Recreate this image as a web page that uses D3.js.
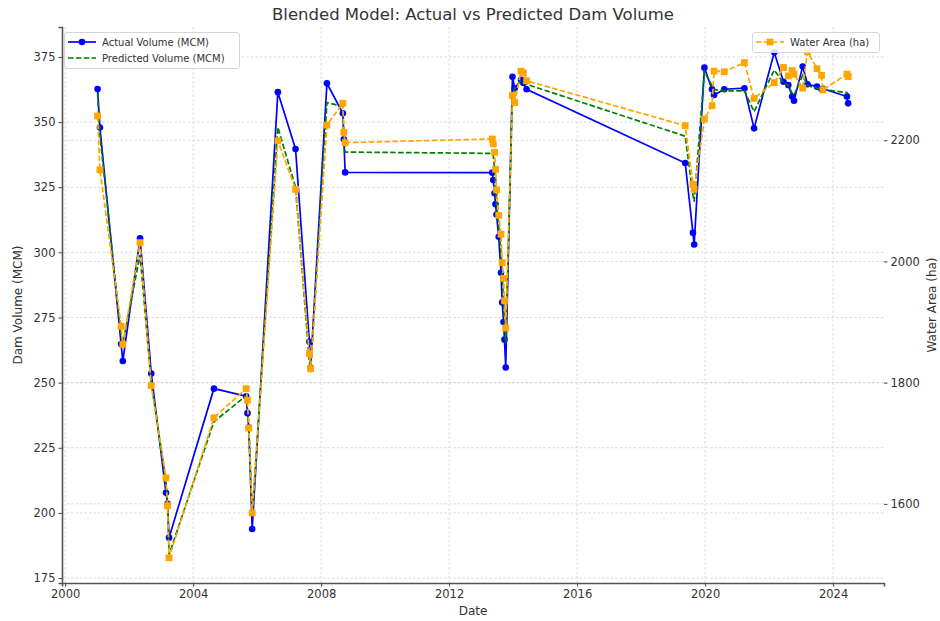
<!DOCTYPE html>
<html>
<head>
<meta charset="utf-8">
<script src="https://cdn.jsdelivr.net/npm/d3@7"></script>
<style>
body { margin: 0; background: #fff; }
text { font-family: "DejaVu Sans", sans-serif; }
</style>
</head>
<body>
<svg id="chart" width="940" height="621"></svg>
<script>
// observation dates
var dates = ["2001-01-05","2001-02-01","2001-10-01","2001-10-20","2002-05-05","2002-09-10",
  "2003-02-25","2003-03-15","2003-04-01","2004-08-25","2005-08-28","2005-09-12","2005-09-27",
  "2005-11-05","2006-08-25","2007-03-15","2007-08-20","2007-09-03","2008-03-07","2008-09-05",
  "2008-09-16","2008-10-01",
  "2013-05-08","2013-05-19","2013-06-03","2013-06-14","2013-06-25","2013-07-20","2013-08-15",
  "2013-08-29","2013-09-13","2013-09-24","2013-10-08",
  "2013-12-24","2014-01-19","2014-04-01","2014-04-27","2014-06-03",
  "2019-05-19","2019-08-15","2019-08-29","2019-12-24","2020-03-20","2020-04-12","2020-08-07",
  "2021-03-25","2021-07-13","2022-02-28","2022-06-14","2022-08-08","2022-09-21","2022-10-12",
  "2023-01-19","2023-03-15","2023-07-01","2023-08-22","2023-09-06","2024-06-07","2024-06-21"];

var actual = [362.7,347.9,264.8,258.3,305.4,253.5,
  207.7,203.5,190.5,247.7,244.8,238.3,232.8,
  193.8,361.5,339.7,265.7,255.7,364.9,353.4,
  343.4,330.7,
  330.6,327.8,322.7,318.5,314.5,306.0,292.2,
  280.8,273.3,266.5,255.8,
  367.4,363.0,366.2,365.0,362.6,
  334.3,307.5,303.0,370.9,362.6,360.4,362.6,
  363.0,347.6,376.8,365.5,364.2,359.8,358.2,
  371.3,364.5,363.6,362.6,362.8,359.8,357.2];

var predicted = [361,345,268,265,299,250,
  212,204,184,235,245,240,234,
  199,348,325,258,254,357.5,356,
  345,338.5,
  338,337,332,325,318,310,300,
  291,282,272,265,
  360,363,366,365,364.5,
  344.6,322,319.5,369.4,364,362.5,362,
  362,354,370,365,364,361,360.4,
  368,364,363,362.8,362.5,361.3,360.8];

var waterArea = [2240,2151,1893,1863,2031,1795,
  1643,1597,1511,1742,1790,1771,1725,
  1585,2199,2119,1848,1823,2225,2261,
  2213,2196,
  2202,2194,2180,2152,2118,2076,2045,
  1998,1972,1935,1890,
  2274,2262,2314,2311,2298,
  2224,2127,2119,2235,2257,2314,2313,
  2328,2269,2295,2320,2306,2315,2309,
  2286,2346,2318,2307,2283,2309,2305];

var volumeTicks = [175,200,225,250,275,300,325,350,375];
var areaTicks = [1600,1800,2000,2200];

var parseDate = d3.timeParse("%Y-%m-%d");
var data = dates.map(function (d, i) {
    return { date: parseDate(d), actual: actual[i], predicted: predicted[i], area: waterArea[i] };
});

var svg = d3.select("#chart"),
    mLeft = 62, mRight = 884, mTop = 27, mBottom = 583;

var x = d3.scaleTime()
    .domain([parseDate("1999-11-26"), parseDate("2025-08-04")])
    .range([mLeft, mRight]);
var y = d3.scaleLinear().domain([173.1, 386.5]).range([mBottom, mTop]);
var y2 = d3.scaleLinear().domain([1469.4, 2386.8]).range([mBottom, mTop]);

// grid
var grid = svg.append("g").attr("class", "grid");
function gridStyle(sel) {
    sel.attr("stroke", "#d0d0d0").attr("stroke-width", 0.8).attr("stroke-dasharray", "2.5,2");
}
grid.selectAll(".gx").data(x.ticks(d3.timeYear.every(4))).enter().append("line")
    .attr("x1", function (d) { return x(d); }).attr("x2", function (d) { return x(d); })
    .attr("y1", mTop).attr("y2", mBottom).call(gridStyle);
grid.selectAll(".gy").data(volumeTicks).enter().append("line")
    .attr("x1", mLeft).attr("x2", mRight)
    .attr("y1", function (d) { return y(d); }).attr("y2", function (d) { return y(d); }).call(gridStyle);
grid.selectAll(".gy2").data(areaTicks).enter().append("line")
    .attr("x1", mLeft).attr("x2", mRight)
    .attr("y1", function (d) { return y2(d); }).attr("y2", function (d) { return y2(d); }).call(gridStyle);

// axes
var xAxis = svg.append("g")
    .attr("transform", "translate(0," + mBottom + ")")
    .call(d3.axisBottom(x).ticks(d3.timeYear.every(4)).tickFormat(d3.timeFormat("%Y")).tickSizeOuter(0).tickSize(3.5).tickPadding(3));
var yAxis = svg.append("g")
    .attr("transform", "translate(" + mLeft + ",0)")
    .call(d3.axisLeft(y).tickValues(volumeTicks).tickSizeOuter(0).tickSize(3.5).tickPadding(3));
var yAxis2 = svg.append("g")
    .attr("transform", "translate(" + mRight + ",0)")
    .call(d3.axisRight(y2).tickValues(areaTicks).tickFormat(d3.format("d")).tickSizeOuter(0).tickSize(3.5).tickPadding(3));

[xAxis, yAxis, yAxis2].forEach(function (a) {
    a.selectAll("text").attr("font-size", 11.5).attr("fill", "#333").attr("font-family", "DejaVu Sans");
    a.selectAll("line").attr("stroke", "#444");
});
xAxis.select(".domain").attr("stroke", "#555").attr("stroke-width", 1.6);
yAxis.select(".domain").attr("stroke", "#555").attr("stroke-width", 1.6);
yAxis2.select(".domain").remove();

// lines
var lineActual = d3.line().x(function (d) { return x(d.date); }).y(function (d) { return y(d.actual); });
var linePred = d3.line().x(function (d) { return x(d.date); }).y(function (d) { return y(d.predicted); });
var lineArea = d3.line().x(function (d) { return x(d.date); }).y(function (d) { return y2(d.area); });

svg.append("path").datum(data).attr("d", lineActual)
    .attr("fill", "none").attr("stroke", "blue").attr("stroke-width", 1.7);
svg.selectAll(".dot").data(data).enter().append("circle")
    .attr("cx", function (d) { return x(d.date); })
    .attr("cy", function (d) { return y(d.actual); })
    .attr("r", 3.3).attr("fill", "blue");
svg.append("path").datum(data).attr("d", linePred)
    .attr("fill", "none").attr("stroke", "green").attr("stroke-width", 1.7)
    .attr("stroke-dasharray", "5.5,2.4");

svg.append("path").datum(data).attr("d", lineArea)
    .attr("fill", "none").attr("stroke", "orange").attr("stroke-width", 1.7)
    .attr("stroke-dasharray", "5.5,2.4");
svg.selectAll(".sq").data(data).enter().append("rect")
    .attr("x", function (d) { return x(d.date) - 3.4; })
    .attr("y", function (d) { return y2(d.area) - 3.4; })
    .attr("width", 6.8).attr("height", 6.8).attr("fill", "orange");

// titles
svg.append("text").attr("x", (mLeft + mRight) / 2).attr("y", 20)
    .attr("text-anchor", "middle").attr("font-size", 16.5).attr("fill", "#333")
    .text("Blended Model: Actual vs Predicted Dam Volume");
svg.append("text").attr("x", (mLeft + mRight) / 2).attr("y", 615)
    .attr("text-anchor", "middle").attr("font-size", 12).attr("fill", "#333")
    .text("Date");
svg.append("text").attr("transform", "translate(22," + (mTop + mBottom) / 2 + ") rotate(-90)")
    .attr("text-anchor", "middle").attr("font-size", 12).attr("fill", "#333")
    .text("Dam Volume (MCM)");
svg.append("text").attr("transform", "translate(936," + (mTop + mBottom) / 2 + ") rotate(-90)")
    .attr("text-anchor", "middle").attr("font-size", 12).attr("fill", "#333")
    .text("Water Area (ha)");

// legend left
var leg = svg.append("g");
leg.append("rect").attr("x", 64.5).attr("y", 32.5).attr("width", 175).attr("height", 36)
    .attr("rx", 2.5).attr("fill", "white").attr("fill-opacity", 0.85).attr("stroke", "#d6d6d6");
leg.append("line").attr("x1", 68).attr("x2", 96).attr("y1", 42).attr("y2", 42)
    .attr("stroke", "blue").attr("stroke-width", 1.7);
leg.append("circle").attr("cx", 82).attr("cy", 42).attr("r", 3.3).attr("fill", "blue");
leg.append("text").attr("x", 102).attr("y", 45.5).attr("font-size", 10).attr("fill", "#333")
    .text("Actual Volume (MCM)");
leg.append("line").attr("x1", 68).attr("x2", 96).attr("y1", 58).attr("y2", 58)
    .attr("stroke", "green").attr("stroke-width", 1.7).attr("stroke-dasharray", "5.5,2.4");
leg.append("text").attr("x", 102).attr("y", 61.5).attr("font-size", 10).attr("fill", "#333")
    .text("Predicted Volume (MCM)");

// legend right
var leg2 = svg.append("g");
leg2.append("rect").attr("x", 752.5).attr("y", 32.5).attr("width", 127).attr("height", 20)
    .attr("rx", 2.5).attr("fill", "white").attr("fill-opacity", 0.85).attr("stroke", "#d6d6d6");
leg2.append("line").attr("x1", 756).attr("x2", 784).attr("y1", 42).attr("y2", 42)
    .attr("stroke", "orange").attr("stroke-width", 1.7).attr("stroke-dasharray", "5.5,2.4");
leg2.append("rect").attr("x", 766.6).attr("y", 38.6).attr("width", 6.8).attr("height", 6.8).attr("fill", "orange");
leg2.append("text").attr("x", 790).attr("y", 45.5).attr("font-size", 10).attr("fill", "#333")
    .text("Water Area (ha)");
</script>
</body>
</html>
